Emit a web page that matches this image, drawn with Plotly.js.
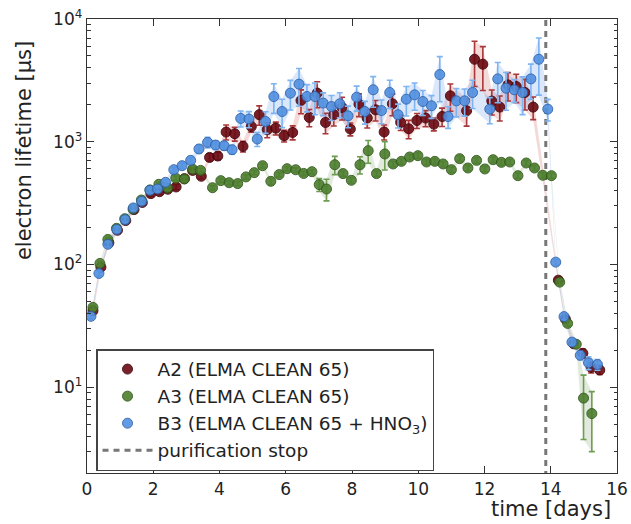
<!DOCTYPE html>
<html>
<head>
<meta charset="utf-8">
<script src="https://cdn.plot.ly/plotly-3.0.1.min.js"></script>
<style>
html,body{margin:0;padding:0;background:#fff;}
#chart{width:631px;height:524px;}
</style>
</head>
<body>
<div id="chart"></div>
<script>
// ---- data ----
const tA2 = [0.18,0.42,0.66,0.92,1.17,1.42,1.67,1.93,2.19,2.44,2.69,2.94,3.19,3.45,3.70,3.95,4.20,4.46,4.71,4.96,5.20,5.44,5.70,5.95,6.21,6.46,6.71,6.95,7.20,7.45,7.70,7.95,8.21,8.46,8.71,8.97,9.22,9.47,9.71,9.96,10.22,10.47,10.72,10.97,11.22,11.46,11.70,11.95,12.22,12.46,12.71,12.96,13.22,13.47,
  14.23,14.44,14.69,14.97,15.22,15.48];
const yA2 = [42,95,150,190,228,280,320,378,392,410,428,500,584,523,745,765,1200,1162,916,1330,1660,1254,1291,1119,1191,2168,1578,2488,1436,1660,1902,1268,2028,1560,1820,1200,2037,1436,1276,1490,1560,1393,1605,2365,null,1786,4700,4283,2143,1915,2904,2815,2518,1915,
  74.5,36,22.6,18.9,14.5,13.8];
const eA2 = [0.05,0.05,0.05,0.05,0.05,0.05,0.05,0.05,0.05,0.05,0.05,0.05,0.05,0.05,
  0.07,0.07,0.14,0.13,0.1,0.1,0.18,0.14,0.12,0.11,
  0.13,0.22,0.16,0.24,0.19,0.19,0.21,0.12,0.21,0.17,
  0.19,0.14,0.2,0.14,0.17,0.14,0.15,0.12,0.17,0.25,
  0,0.25,0.4,0.39,0.23,0.23,0.26,0.26,0.28,0.21,
  0.05,0.05,0.06,0.08,0.1,0.08];

const tA3 = [0.18,0.39,0.63,0.89,1.14,1.39,1.64,1.90,2.17,2.43,2.68,2.94,3.19,3.43,3.79,4.04,4.29,4.55,4.80,5.05,5.30,5.55,5.80,6.04,6.30,6.54,6.79,7.01,7.23,7.48,7.73,7.98,8.24,8.49,8.74,8.99,9.24,9.49,9.74,9.99,10.25,10.50,10.75,11.00,11.25,11.50,11.76,12.01,12.26,12.51,12.76,13.01,13.26,13.51,13.76,14.02,
  14.27,14.51,14.77,14.99,15.24];
const yA3 = [44.7,102,160,197,236,283,335,405,450,420,505,497,598,584,422,482,464,456,517,560,638,476,540,603,591,552,570,447,412,650,550,485,650,845,550,795,659,692,751,770,684,692,659,592,728,611,705,600,714,679,684,529,671,611,533,529,
  71.8,33.1,22.4,8.15,6.1];
const eA3 = [0.04,0.04,0.04,0.04,0.04,0.04,0.04,0.04,0.04,0.04,0.04,0.04,0.05,0.04,0.04,0.04,0.04,0.04,0.04,0.04,0.04,
  0.06,0.04,0.04,0.04,0.04,0.04,0.12,0.2,0.17,0.05,0.05,0.16,0.21,0.05,0.26,
  0.05,0.05,0.05,0.05,0.05,0.05,0.05,0.05,0.05,0.05,0.05,0.05,0.05,0.05,0.05,0.05,0.05,0.05,0.05,0.05,
  0.05,0.05,0.06,0.54,0.51];

const tB3 = [0.12,0.36,0.63,0.90,1.15,1.40,1.65,1.90,2.13,2.37,2.62,2.87,3.13,3.38,3.64,3.88,4.14,4.38,4.64,4.89,5.14,5.39,5.64,5.89,6.14,6.40,6.64,6.88,7.13,7.38,7.63,7.88,8.14,8.39,8.64,8.89,9.14,9.39,9.64,9.89,10.14,10.40,10.65,10.90,11.15,11.40,11.64,11.89,12.16,12.40,12.65,12.90,13.15,13.40,13.64,13.91,
  14.15,14.40,14.64,14.89,15.14,15.41];
const yB3 = [37.8,84.5,146,193,232,289,327,402,412,467,592,638,705,873,988,940,928,861,1549,1531,1052,1462,2334,1762,2488,2946,2335,2335,2066,1937,2037,1626,2307,1762,2650,1795,2518,1660,2222,2410,2127,1963,3525,1605,2154,2154,2518,null,1844,3251,2733,2650,2518,3251,4700,1844,
  104.5,37.6,23.3,18.2,15.8,15.3];
const eB3 = [0.05,0.05,0.05,0.05,0.05,0.05,0.05,0.05,0.05,0.05,0.05,0.05,0.05,
  0.07,0.1,0.08,0.08,0.08,0.15,0.15,0.13,0.2,
  0.27,0.26,0.27,0.34,0.25,0.29,0.21,0.23,0.23,0.2,
  0.23,0.21,0.28,0.22,0.26,0.22,0.27,0.25,0.23,0.21,
  0.4,0.2,0.26,0.25,0.26,0,0.24,0.36,0.34,0.21,
  0.34,0.32,0.49,0.2,
  0.05,0.06,0.06,0.08,0.12,0.1];

const stopTime = 13.85;
const names = ['A2 (ELMA CLEAN 65)', 'A3 (ELMA CLEAN 65)', 'B3 (ELMA CLEAN 65 + HNO<sub>3</sub>)', 'purification stop'];
const yTicks = [10, 100, 1000, 10000];
const yTickText = ['10<sup>1</sup>', '10<sup>2</sup>', '10<sup>3</sup>', '10<sup>4</sup>'];
const xTicks = [0, 2, 4, 6, 8, 10, 12, 14, 16];

// ---- styles ----
const series = [
  {t: tA2, y: yA2, e: eA2, name: names[0], fill: '#6a0a12', edge: '#3f0008', err: '#a8383a', band: 'rgba(205,80,80,0.22)', rank: 1},
  {t: tA3, y: yA3, e: eA3, name: names[1], fill: '#4d7e2e', edge: '#2f5818', err: '#6e9c52', band: 'rgba(120,160,100,0.22)', rank: 2},
  {t: tB3, y: yB3, e: eB3, name: names[2], fill: '#5290e0', edge: '#2e62aa', err: '#7eb4f2', band: 'rgba(110,160,240,0.25)', rank: 3}
];

const traces = [];
// shaded uncertainty bands
series.forEach(s => {
  const xs = [], up = [], lo = [];
  for (let i = 0; i < s.t.length; i++) {
    if (s.y[i] == null) continue;
    xs.push(s.t[i]);
    up.push(s.y[i] * (1 + s.e[i]));
    lo.push(Math.max(s.y[i] * (1 - s.e[i]), 0.5));
  }
  traces.push({
    x: xs.concat(xs.slice().reverse()),
    y: up.concat(lo.slice().reverse()),
    type: 'scatter', mode: 'lines', fill: 'toself',
    fillcolor: s.band, line: {width: 0, color: 'rgba(0,0,0,0)'},
    hoverinfo: 'skip', showlegend: false
  });
});
// purification stop line
traces.push({
  x: [stopTime, stopTime], y: [1, 20000],
  type: 'scatter', mode: 'lines', name: names[3], legendrank: 4, legendgroup: 'g4',
  line: {color: '#777777', width: 3, dash: '6px,5px'}
});
// data points
series.forEach(s => {
  traces.push({
    x: s.t, y: s.y, type: 'scatter', mode: 'markers', name: s.name,
    legendrank: s.rank, legendgroup: 'g' + s.rank,
    marker: {size: 10, color: s.fill, opacity: 0.9, line: {color: s.edge, width: 1}},
    error_y: {type: 'data', array: s.y.map((v, i) => v == null ? 0 : v * s.e[i]),
              color: s.err, thickness: 1.6, width: 3}
  });
});

const font = 'DejaVu Sans, Liberation Sans, sans-serif';
const minorY = [];
[1, 10, 100, 1000].forEach(d => { for (let m = 2; m <= 9; m++) minorY.push(m * d); });

const layout = {
  width: 631, height: 524,
  margin: {l: 87, r: 14, t: 19, b: 51},
  paper_bgcolor: '#fff', plot_bgcolor: '#fff',
  font: {family: font, size: 17, color: '#222'},
  showlegend: true,
  legend: {
    x: 0.017, y: 0.273, xanchor: 'left', yanchor: 'top',
    bgcolor: '#fff', bordercolor: '#444', borderwidth: 1.5,
    font: {family: font, size: 18.5, color: '#222'},
    tracegroupgap: 1.5, itemwidth: 50, traceorder: 'normal'
  },
  xaxis: {
    range: [0, 16], tickvals: xTicks, ticks: 'inside', ticklen: 7, tickwidth: 1,
    tickcolor: '#333', showline: true, linecolor: '#333', linewidth: 1.3, mirror: 'allticks',
    showgrid: false, zeroline: false, tickfont: {size: 17}
  },
  yaxis: {
    type: 'log', range: [Math.log10(2), 4], tickvals: yTicks, ticktext: yTickText,
    ticks: 'inside', ticklen: 7, tickwidth: 1, tickcolor: '#333',
    showline: true, linecolor: '#333', linewidth: 1.3, mirror: 'allticks',
    showgrid: false, zeroline: false, tickfont: {size: 17},
    minor: {tickvals: minorY, ticks: 'inside', ticklen: 3.5, tickcolor: '#333', showgrid: false}
  },
  annotations: [
    {text: 'electron lifetime [μs]', xref: 'paper', yref: 'paper', x: -0.12, y: 0.71,
     textangle: -90, showarrow: false, font: {size: 21, color: '#222'}, xanchor: 'center', yanchor: 'middle'},
    {text: 'time [days]', xref: 'paper', yref: 'paper', x: 0.992, y: -0.08,
     showarrow: false, font: {size: 21, color: '#222'}, xanchor: 'right', yanchor: 'middle'}
  ]
};

Plotly.newPlot('chart', traces, layout, {displayModeBar: false, staticPlot: true});
</script>
</body>
</html>
